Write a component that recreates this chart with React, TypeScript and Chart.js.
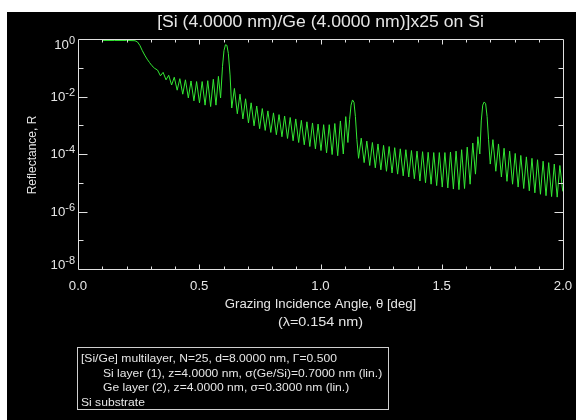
import React, { useEffect, useRef } from "react";
import { Chart, registerables } from "chart.js";

Chart.register(...registerables);

// ---- data ----
const angleDeg = [
  0.100, 0.150, 0.200, 0.235, 0.245, 0.255, 0.265, 0.275, 0.285, 0.295,
  0.305, 0.316, 0.328, 0.340, 0.351, 0.363, 0.374, 0.386, 0.397, 0.409,
  0.420, 0.432, 0.443, 0.455, 0.466, 0.478, 0.489, 0.501, 0.512, 0.524,
  0.535, 0.547, 0.558, 0.569, 0.579, 0.588, 0.596, 0.602, 0.608, 0.614,
  0.620, 0.627, 0.634, 0.645, 0.657, 0.668, 0.680, 0.691, 0.703, 0.714,
  0.726, 0.737, 0.749, 0.760, 0.772, 0.783, 0.795, 0.806, 0.818, 0.829,
  0.841, 0.852, 0.864, 0.875, 0.887, 0.898, 0.910, 0.921, 0.933, 0.944,
  0.956, 0.967, 0.979, 0.990, 1.002, 1.013, 1.025, 1.036, 1.048, 1.059,
  1.071, 1.082, 1.094, 1.104, 1.113, 1.120, 1.126, 1.132, 1.138, 1.144,
  1.150, 1.157, 1.168, 1.180, 1.191, 1.203, 1.214, 1.226, 1.237, 1.249,
  1.260, 1.272, 1.283, 1.295, 1.306, 1.318, 1.329, 1.341, 1.352, 1.364,
  1.375, 1.387, 1.398, 1.410, 1.421, 1.433, 1.444, 1.456, 1.467, 1.479,
  1.490, 1.502, 1.513, 1.525, 1.536, 1.548, 1.559, 1.571, 1.582, 1.594,
  1.605, 1.617, 1.628, 1.639, 1.649, 1.657, 1.663, 1.669, 1.675, 1.681,
  1.687, 1.693, 1.700, 1.711, 1.723, 1.734, 1.746, 1.757, 1.769, 1.780,
  1.792, 1.803, 1.815, 1.826, 1.838, 1.849, 1.861, 1.872, 1.884, 1.895,
  1.907, 1.918, 1.930, 1.941, 1.953, 1.964, 1.976, 1.987, 1.999,
];

// log10 of the reflectance at each angle
const log10Reflectance = [
  -0.05, -0.05, -0.05, -0.06, -0.10, -0.22, -0.40, -0.56, -0.70, -0.82,
  -0.93, -1.02, -1.08, -1.28, -1.16, -1.42, -1.26, -1.60, -1.33, -1.78,
  -1.38, -1.92, -1.42, -2.05, -1.46, -2.15, -1.48, -2.22, -1.48, -2.30,
  -1.45, -2.35, -1.40, -2.30, -1.30, -2.05, -0.95, -0.40, -0.20, -0.22,
  -0.50, -1.25, -2.40, -1.72, -2.60, -1.92, -2.78, -2.08, -2.92, -2.22,
  -3.02, -2.33, -3.12, -2.42, -3.18, -2.50, -3.25, -2.57, -3.33, -2.63,
  -3.40, -2.68, -3.46, -2.73, -3.54, -2.78, -3.60, -2.83, -3.68, -2.88,
  -3.74, -2.92, -3.82, -2.96, -3.88, -2.98, -3.96, -2.98, -4.02, -2.94,
  -4.06, -2.85, -4.00, -2.70, -3.60, -2.80, -2.30, -2.12, -2.20, -2.70,
  -3.50, -4.15, -3.45, -4.30, -3.55, -4.40, -3.60, -4.48, -3.65, -4.55,
  -3.70, -4.60, -3.74, -4.66, -3.78, -4.70, -3.82, -4.76, -3.85, -4.80,
  -3.88, -4.86, -3.90, -4.94, -3.92, -5.00, -3.94, -5.05, -3.95, -5.10,
  -3.95, -5.15, -3.95, -5.18, -3.93, -5.22, -3.90, -5.24, -3.85, -5.20,
  -3.76, -5.05, -3.62, -4.70, -3.40, -4.00, -2.85, -2.30, -2.19, -2.25,
  -2.70, -3.50, -4.35, -3.50, -4.60, -3.65, -4.80, -3.80, -4.95, -3.90,
  -5.05, -3.98, -5.15, -4.05, -5.20, -4.10, -5.28, -4.15, -5.35, -4.20,
  -5.40, -4.25, -5.45, -4.30, -5.48, -4.35, -5.50, -4.40, -5.30,
];

const xTickValues = [0, 0.5, 1.0, 1.5, 2.0];
const xTickLabels = ["0.0", "0.5", "1.0", "1.5", "2.0"];
const yDecadeExponents = [0, -2, -4, -6, -8];
const yDecadeLabels = ["0", "-2", "-4", "-6", "-8"];

const titleText = "[Si (4.0000 nm)/Ge (4.0000 nm)]x25 on Si";
const xTitleText = "Grazing Incidence Angle, \u03b8 [deg]";
const xSubTitleText = "(\u03bb=0.154 nm)";
const yTitleText = "Reflectance, R";
const infoLines = [
  "[Si/Ge] multilayer, N=25, d=8.0000 nm, \u0393=0.500",
  "Si layer (1), z=4.0000 nm, \u03c3(Ge/Si)=0.7000 nm (lin.)",
  "Ge layer (2), z=4.0000 nm, \u03c3=0.3000 nm (lin.)",
  "Si substrate",
];
const infoIndent = [false, true, true, false];

// ---- styles ----
const FONT = '"Liberation Sans", Arial, sans-serif';
const AXIS_COLOR = "#e0e0e0";
const TEXT_COLOR = "#e6e6e6";
const LINE_COLOR = "#33e833";
const STRETCH = 1.1;

function stretchedText(
  ctx: CanvasRenderingContext2D,
  text: string,
  x: number,
  y: number,
  align: CanvasTextAlign,
  sx: number = STRETCH
) {
  ctx.save();
  ctx.translate(x, y);
  ctx.scale(sx, 1);
  ctx.textAlign = align;
  ctx.fillText(text, 0, 0);
  ctx.restore();
}

const overlayPlugin = {
  id: "idlOverlay",
  afterDraw(chart: any) {
    const ctx: CanvasRenderingContext2D = chart.ctx;
    const xs = chart.scales.x;
    const ys = chart.scales.y;
    const { left, right, top, bottom } = chart.chartArea;
    const L = Math.round(left) + 0.5;
    const R = Math.round(right) + 0.5;
    const T = Math.round(top) + 0.5;
    const B = Math.round(bottom) + 0.5;

    ctx.save();
    ctx.strokeStyle = AXIS_COLOR;
    ctx.lineWidth = 1;
    ctx.beginPath();
    ctx.rect(L, T, R - L, B - T);
    ctx.stroke();

    // x ticks (minor every 0.1, major every 0.5), top and bottom, inward
    ctx.beginPath();
    for (let i = 1; i < 20; i++) {
      const v = i / 10;
      const px = Math.round(xs.getPixelForValue(v)) + 0.5;
      const len = i % 5 === 0 ? 5 : 3;
      ctx.moveTo(px, B);
      ctx.lineTo(px, B - len);
      ctx.moveTo(px, T);
      ctx.lineTo(px, T + len);
    }
    // y ticks: every decade, major at labelled decades
    for (let e = -7; e <= -1; e++) {
      const py = Math.round(ys.getPixelForValue(Math.pow(10, e))) + 0.5;
      const len = e % 2 === 0 ? 9 : 5;
      ctx.moveTo(L, py);
      ctx.lineTo(L + len, py);
      ctx.moveTo(R, py);
      ctx.lineTo(R - len, py);
    }
    ctx.stroke();

    ctx.fillStyle = TEXT_COLOR;
    // x tick labels
    ctx.font = `12px ${FONT}`;
    ctx.textBaseline = "middle";
    xTickValues.forEach((v, i) => {
      stretchedText(ctx, xTickLabels[i], xs.getPixelForValue(v), bottom + 18, "center");
    });

    // y tick labels 10^n
    ctx.textBaseline = "alphabetic";
    yDecadeExponents.forEach((e, i) => {
      let py = ys.getPixelForValue(Math.pow(10, e));
      if (i === 0) py += 6;
      if (i === yDecadeExponents.length - 1) py -= 4;
      ctx.font = `10px ${FONT}`;
      const ew = ctx.measureText(yDecadeLabels[i]).width * STRETCH;
      ctx.font = `12px ${FONT}`;
      const bw = ctx.measureText("10").width * STRETCH;
      const xEnd = left - 3;
      stretchedText(ctx, "10", xEnd - ew - bw, py + 4, "left");
      ctx.font = `10px ${FONT}`;
      stretchedText(ctx, yDecadeLabels[i], xEnd - ew, py - 1, "left");
    });

    // title
    const cx = (left + right) / 2;
    ctx.textBaseline = "middle";
    ctx.font = `16px ${FONT}`;
    stretchedText(ctx, titleText, cx, 11, "center");

    // x titles
    ctx.font = `12px ${FONT}`;
    stretchedText(ctx, xTitleText, cx, bottom + 36, "center");
    stretchedText(ctx, xSubTitleText, cx, bottom + 54, "center", 1.2);

    // y title
    ctx.save();
    ctx.translate(26, (top + bottom) / 2 + 1);
    ctx.rotate(-Math.PI / 2);
    ctx.textAlign = "center";
    ctx.fillText(yTitleText, 0, 0);
    ctx.restore();

    // info box
    ctx.font = `11px ${FONT}`;
    const bx = Math.round(left) - 1;
    const by = 335;
    const tx = bx + 4;
    const indent = 22;
    let maxW = 0;
    infoLines.forEach((s, i) => {
      const w = ctx.measureText(s).width * STRETCH + (infoIndent[i] ? indent : 0);
      if (w > maxW) maxW = w;
    });
    ctx.strokeStyle = "#d0d0d0";
    ctx.strokeRect(bx + 0.5, by + 0.5, Math.round(maxW + 10), 62);
    infoLines.forEach((s, i) => {
      stretchedText(ctx, s, tx + (infoIndent[i] ? indent : 0), by + 12 + i * 14.5, "left");
    });

    ctx.restore();
  },
};

export default function App() {
  const canvasRef = useRef<HTMLCanvasElement | null>(null);

  useEffect(() => {
    const canvas = canvasRef.current;
    if (!canvas) return;
    const points = angleDeg.map((a, i) => ({ x: a, y: Math.pow(10, log10Reflectance[i]) }));
    const chart = new Chart(canvas, {
      type: "line",
      data: {
        datasets: [
          {
            data: points,
            borderColor: LINE_COLOR,
            borderWidth: 1,
            pointRadius: 0,
            tension: 0,
            fill: false,
          },
        ],
      },
      options: {
        animation: false,
        responsive: false,
        devicePixelRatio: 1,
        parsing: false,
        layout: { padding: { left: 71, top: 27, right: 13, bottom: 151 } },
        scales: {
          x: { type: "linear", min: 0, max: 2, display: false },
          y: { type: "logarithmic", min: 1e-8, max: 1, display: false },
        },
        plugins: {
          legend: { display: false },
          tooltip: { enabled: false },
          title: { display: false },
        },
      },
      plugins: [overlayPlugin],
    } as any);
    return () => chart.destroy();
  }, []);

  return (
    <div style={{ position: "absolute", left: 0, top: 0, width: 576, height: 420, background: "#ffffff", overflow: "hidden" }}>
      <canvas
        ref={canvasRef}
        width={569}
        height={408}
        style={{ position: "absolute", left: 7, top: 12, width: 569, height: 408, background: "#000000" }}
      />
    </div>
  );
}
